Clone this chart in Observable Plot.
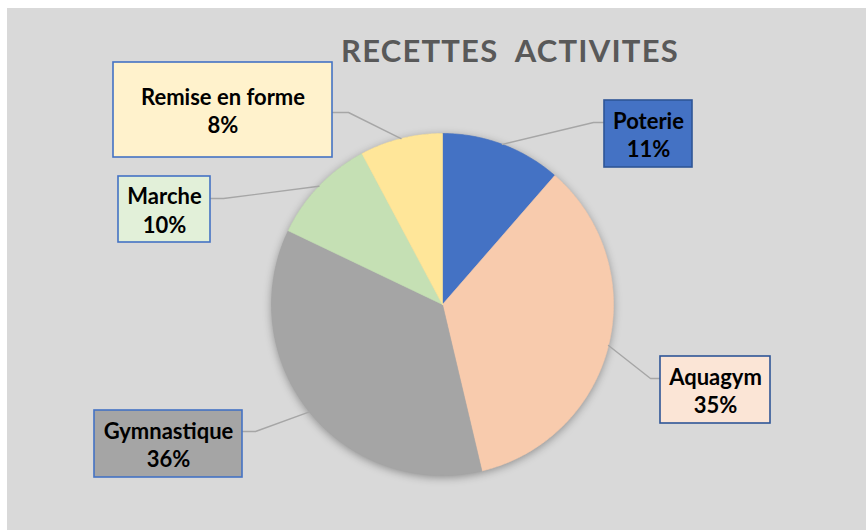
<!DOCTYPE html>
<html>
<head>
<meta charset="utf-8">
<script src="https://cdn.jsdelivr.net/npm/d3@7"></script>
<script src="https://cdn.jsdelivr.net/npm/@observablehq/plot@0.6"></script>
<style>
  html, body { margin: 0; padding: 0; background: #ffffff; }
  #wrap { position: relative; width: 866px; height: 530px; overflow: hidden; }
  #panel { position: absolute; left: 7px; top: 8px; right: 0; bottom: 0; background: #D9D9D9; }
  #title { position: absolute; left: 0; width: 1020px; top: 35px; text-align: center;
           font: bold 31px Lato, sans-serif; line-height: 31px; letter-spacing: 1.2px;
           color: #595959; white-space: pre; }
  #chart { position: absolute; left: 0; top: 0; }
</style>
</head>
<body>
<div id="wrap">
  <div id="panel"></div>
  <div id="chart"></div>
  <div id="title"></div>
</div>
<script>
// ---- data ----
const title = "RECETTES  ACTIVITES";
const categories = ["Poterie", "Aquagym", "Gymnastique", "Marche", "Remise en forme"];
const shares = [11.4, 34.9, 35.8, 10.1, 7.8];
const sliceColors = ["#4472C4", "#F8CBAD", "#A5A5A5", "#C5E0B4", "#FFE699"];
const labelFills = ["#4472C4", "#FBE5D6", "#A5A5A5", "#E2F0D9", "#FFF2CC"];
const labelBorders = ["#2F5597", "#2F5597", "#4472C4", "#4472C4", "#4472C4"];

// ---- layout (pixels) ----
const W = 866, H = 530;
const cx = 442, cy = 304, R = 171;
const boxes = [ // [x1, y1, x2, y2]
  [604, 100, 692, 167],
  [660, 356, 770, 423],
  [94, 410, 242, 477],
  [118, 176, 210, 242],
  [113, 62, 332, 157]
];
const elbows = [ // [elbowX, elbowY, endX, endY]
  [593, 122, 604, 122],
  [650, 378, 660, 378],
  [255, 431, 242, 431],
  [223, 198, 210, 198],
  [348, 112, 332, 112]
];

document.getElementById("title").textContent = title;

const total = d3.sum(shares);
let acc = 0;
const slices = categories.map((name, i) => {
  const a0 = acc / total * 2 * Math.PI;
  acc += shares[i];
  const a1 = acc / total * 2 * Math.PI;
  const n = Math.max(2, Math.ceil((a1 - a0) / (Math.PI / 360)));
  const pts = [{x: cx, y: cy}];
  for (let k = 0; k <= n; k++) {
    const a = a0 + (a1 - a0) * k / n;
    pts.push({x: cx + R * Math.sin(a), y: cy - R * Math.cos(a)});
  }
  pts.push({x: cx, y: cy});
  const mid = (a0 + a1) / 2;
  return {name, i, pts, mid, pct: Math.round(shares[i] / total * 100)};
});

const leaders = slices.flatMap(s => {
  const e = elbows[s.i];
  return [
    {name: s.name, x: cx + R * Math.sin(s.mid), y: cy - R * Math.cos(s.mid)},
    {name: s.name, x: e[0], y: e[1]},
    {name: s.name, x: e[2], y: e[3]}
  ];
});

const labels = slices.map(s => ({
  name: s.name,
  x1: boxes[s.i][0], y1: boxes[s.i][1], x2: boxes[s.i][2], y2: boxes[s.i][3],
  fill: labelFills[s.i], stroke: labelBorders[s.i],
  text: s.name + "\n" + s.pct + "%"
}));

const plot = Plot.plot({
  width: W, height: H,
  margin: 0,
  x: {domain: [0, W], range: [0, W], axis: null},
  y: {domain: [0, H], range: [0, H], axis: null},
  style: {background: "transparent", overflow: "visible"},
  marks: [
    Plot.dot([{x: cx, y: cy}], {x: "x", y: "y", r: R, fill: "#A5A5A5", stroke: "none"}),
    ...slices.map(s => Plot.line(s.pts, {x: "x", y: "y", fill: sliceColors[s.i], stroke: sliceColors[s.i], strokeWidth: 0.6})),
    Plot.line(leaders, {x: "x", y: "y", z: "name", stroke: "#A6A6A6", strokeWidth: 1.4}),
    Plot.rect(labels, {x1: "x1", x2: "x2", y1: "y1", y2: "y2", fill: d => d.fill, stroke: d => d.stroke, strokeWidth: 1.6}),
    Plot.text(labels, {x: d => (d.x1 + d.x2) / 2, y: d => (d.y1 + d.y2) / 2, text: "text",
      fontSize: 22, fontWeight: "bold", fontFamily: "Lato, sans-serif", fill: "#000000",
      lineHeight: 1.3, lineAnchor: "middle", textAnchor: "middle"})
  ]
});
const shadowCircle = plot.querySelector('g[aria-label="dot"] circle');
if (shadowCircle) shadowCircle.style.filter = "drop-shadow(0px 2px 4px rgba(0,0,0,0.35))";
document.getElementById("chart").appendChild(plot);
</script>
</body>
</html>
